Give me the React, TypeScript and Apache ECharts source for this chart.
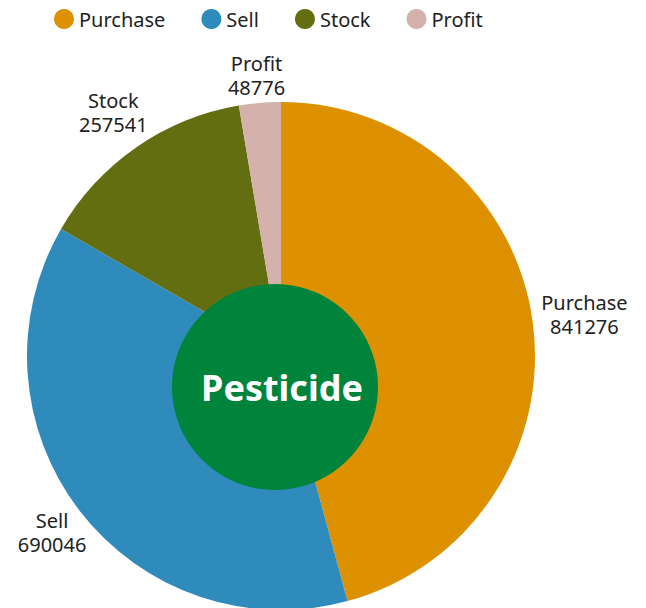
import React, { useEffect, useRef } from "react";
import * as echarts from "echarts";

const categories = ["Purchase", "Sell", "Stock", "Profit"];
const values = [841276, 690046, 257541, 48776];
const colors = ["#DD9100", "#2E8BBB", "#636E10", "#D4B2AB"];
const centerTitle = "Pesticide";

export default function App() {
  const ref = useRef<HTMLDivElement>(null);
  useEffect(() => {
    if (!ref.current) return;
    const chart = echarts.init(ref.current, null, { renderer: "svg" });
    const data = categories.map((name, i) => ({
      name,
      value: values[i],
      itemStyle: { color: colors[i] },
    }));
    const font = "'Noto Sans', sans-serif";
    chart.setOption({
      animation: false,
      textStyle: { fontFamily: font },
      legend: {
        top: 4,
        left: 49,
        icon: "circle",
        itemWidth: 20,
        itemHeight: 20,
        itemGap: 36,
        textStyle: { fontSize: 20, color: "#222", fontFamily: font },
        data: categories,
      },
      series: [
        {
          type: "pie",
          center: [281, 356],
          radius: [0, 254],
          startAngle: 90,
          clockwise: true,
          silent: true,
          label: { show: false },
          labelLine: { show: false },
          data,
        },
        {
          type: "pie",
          center: [281, 356],
          radius: [280, 302],
          startAngle: 90,
          clockwise: true,
          silent: true,
          itemStyle: { color: "rgba(0,0,0,0)" },
          label: {
            show: true,
            position: "inside",
            formatter: "{b}\n{c}",
            fontSize: 20,
            lineHeight: 24,
            color: "#222",
            fontFamily: font,
          },
          labelLine: { show: false },
          labelLayout: (p: any) => {
            if (p.dataIndex === 0) return { dx: 12, dy: -3 };
            if (p.dataIndex === 3) return { dy: 12 };
            if (p.dataIndex === 2) return { dy: -2 };
            if (p.dataIndex === 1) return { dx: 4, dy: -3 };
            return {};
          },
          data: categories.map((name, i) => ({ name, value: values[i] })),
        },
      ],
      graphic: [
        {
          type: "circle",
          shape: { cx: 275, cy: 387, r: 103 },
          style: { fill: "#00843C" },
          z: 10,
        },
        {
          type: "text",
          x: 282,
          y: 387,
          style: {
            text: centerTitle,
            fill: "#fff",
            fontSize: 36,
            fontWeight: "bold",
            fontFamily: font,
            textAlign: "center",
            textVerticalAlign: "middle",
          },
          z: 11,
        },
      ],
    });
    return () => chart.dispose();
  }, []);
  return (
    <div
      ref={ref}
      style={{ position: "fixed", left: 0, top: 0, width: 646, height: 608, background: "#fff" }}
    />
  );
}
